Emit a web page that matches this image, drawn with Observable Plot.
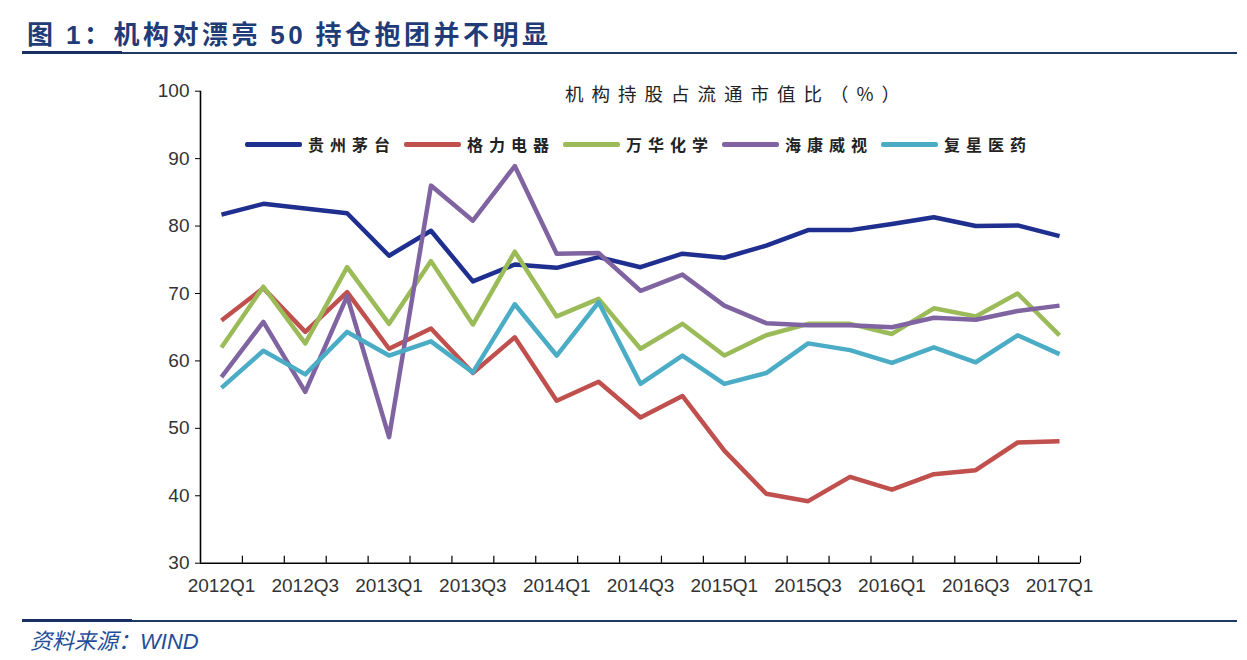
<!DOCTYPE html>
<html><head><meta charset="utf-8">
<script src="https://cdn.jsdelivr.net/npm/d3@7"></script>
<script src="https://cdn.jsdelivr.net/npm/@observablehq/plot@0.6"></script>
<style>
html,body{margin:0;padding:0;background:#fff;}
#wrap{position:relative;width:1247px;height:660px;overflow:hidden;font-family:"Noto Sans CJK SC",sans-serif;}
#title{position:absolute;left:27px;top:14px;font-size:26px;font-weight:bold;color:#1F3C78;letter-spacing:3.5px;white-space:nowrap;}
#title .num{font-family:"Liberation Sans",Arial,sans-serif;}
.hline{position:absolute;left:22px;width:1215px;height:2px;background:#1F3864;}
.hthick{position:absolute;left:22px;width:100px;height:3px;background:#17305F;}
#chart{position:absolute;left:0;top:60px;}
#ctitle{position:absolute;left:565px;top:80px;font-size:18.5px;letter-spacing:8px;color:#222;white-space:nowrap;}
#legend{position:absolute;left:245px;top:132px;display:flex;}
.item{display:flex;align-items:center;width:159px;}
.sw{width:57px;height:5px;border-radius:2px;margin-right:6px;}
.lt{font-size:16px;letter-spacing:6px;color:#222;font-weight:bold;white-space:nowrap;}
#foot{position:absolute;left:30px;top:623px;font-size:22px;font-style:italic;color:#1F4E9A;white-space:nowrap;}
#foot .en{font-family:"Liberation Sans",Arial,sans-serif;}
</style>
</head><body>
<div id="wrap">
  <div id="title">图 <span class="num">1</span>：机构对漂亮 <span class="num">50</span> 持仓抱团并不明显</div>
  <div class="hline" style="top:52px"></div>
  <div class="hthick" style="top:51px"></div>
  <div id="chart"></div>
  <div id="ctitle">机构持股占流通市值比（%）</div>
  <div id="legend"></div>
  <div class="hline" style="top:620px"></div>
  <div class="hthick" style="top:619px;width:110px"></div>
  <div id="foot">资料来源：<span class="en">WIND</span></div>
</div>
<script>
const quarters = ["2012Q1","2012Q2","2012Q3","2012Q4","2013Q1","2013Q2","2013Q3","2013Q4",
  "2014Q1","2014Q2","2014Q3","2014Q4","2015Q1","2015Q2","2015Q3","2015Q4",
  "2016Q1","2016Q2","2016Q3","2016Q4","2017Q1"];
const seriesNames = ["贵州茅台","格力电器","万华化学","海康威视","复星医药"];
const seriesColors = ["#1F2F8F","#C0504D","#9BBB59","#8064A2","#4BACC6"];
const maotai = [81.7,83.3,82.6,81.9,75.6,79.3,71.8,74.3,73.8,75.4,73.9,75.9,75.3,77.1,79.4,79.4,80.3,81.3,80.0,80.1,78.5];
const geli   = [66.0,70.8,64.3,70.2,61.8,64.8,58.2,63.5,54.1,56.9,51.6,54.8,46.7,40.3,39.2,42.8,40.9,43.2,43.8,47.9,48.1];
const wanhua = [62.0,71.0,62.6,73.9,65.5,74.8,65.4,76.2,66.6,69.2,61.8,65.5,60.8,63.8,65.5,65.5,64.0,67.8,66.6,70.0,63.8];
const haikang= [57.6,65.8,55.4,69.6,48.7,86.0,80.8,88.9,75.9,76.0,70.4,72.8,68.2,65.6,65.3,65.3,65.0,66.4,66.1,67.4,68.2];
const fuxing = [56.0,61.5,58.0,64.3,60.8,62.9,58.3,68.4,60.8,68.7,56.6,60.8,56.6,58.2,62.6,61.6,59.7,62.0,59.8,63.8,61.0];
const yTicks = [30,40,50,60,70,80,90,100];

const allSeries = [maotai, geli, wanhua, haikang, fuxing];
const data = [];
allSeries.forEach((arr, s) => arr.forEach((v, i) => data.push({i, q: quarters[i], name: seriesNames[s], v})));
const labelIdx = quarters.map((q, i) => i).filter(i => i % 2 === 0);
const bounds = quarters.map((q, i) => i + 0.5);

const chart = Plot.plot({
  width: 1247, height: 555,
  marginLeft: 200, marginRight: 167, marginTop: 30.7, marginBottom: 52.3,
  style: {fontFamily: "Liberation Sans, Arial, sans-serif", fontSize: "19px", background: "#fff", color: "#333"},
  x: {type: "linear", domain: [-0.5, quarters.length - 0.5]},
  y: {domain: [30, 100]},
  color: {domain: seriesNames, range: seriesColors},
  marks: [
    Plot.axisY({ticks: yTicks, tickSize: 5, tickPadding: 6, label: null, stroke: "#000", fill: "#333", fontSize: 19}),
    Plot.axisX({ticks: labelIdx, tickSize: 0, tickPadding: 15, label: null, tickFormat: i => quarters[i], fill: "#333", fontSize: 19}),
    Plot.ruleX(bounds, {x: d => d, y1: 30, y2: 31.04, stroke: "#000", strokeWidth: 1.2}),
    Plot.line(data, {x: "i", y: "v", z: "name", stroke: "name", strokeWidth: 4.5, strokeLinejoin: "round", strokeLinecap: "butt"}),
    Plot.ruleX([-0.5], {stroke: "#000", strokeWidth: 1.6}),
    Plot.ruleY([30], {stroke: "#000", strokeWidth: 1.6})
  ]
});
document.getElementById("chart").appendChild(chart);

const legend = document.getElementById("legend");
seriesNames.forEach((n, k) => {
  const it = document.createElement("div"); it.className = "item";
  const sw = document.createElement("div"); sw.className = "sw"; sw.style.background = seriesColors[k];
  const t = document.createElement("span"); t.className = "lt"; t.textContent = n;
  it.appendChild(sw); it.appendChild(t); legend.appendChild(it);
});
</script>
</body></html>
